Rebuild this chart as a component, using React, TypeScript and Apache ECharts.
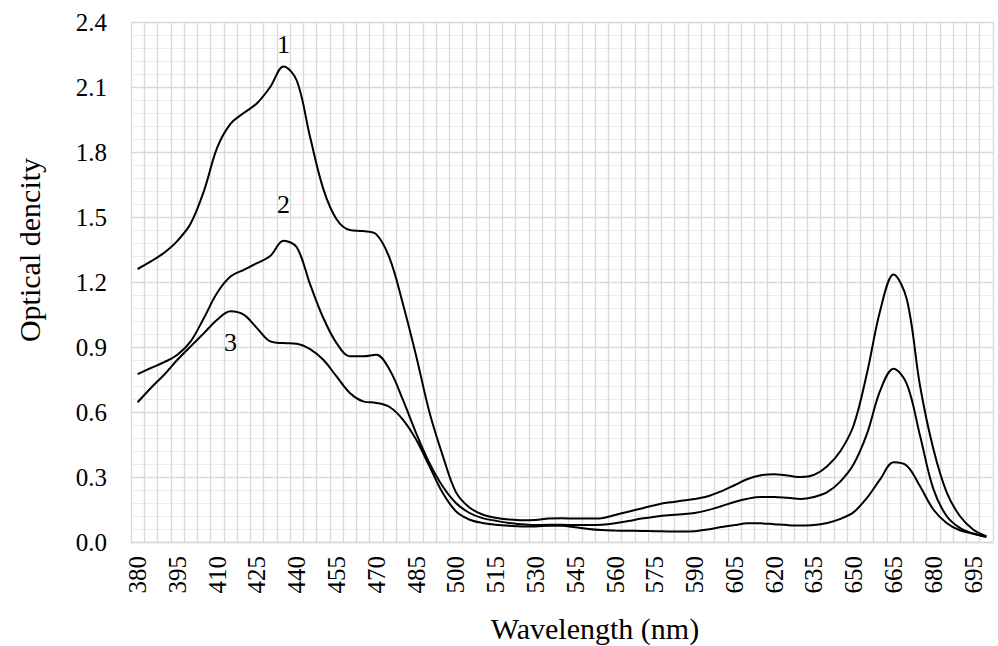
import React, { useEffect, useRef } from "react";
import * as echarts from "echarts";

const wavelengths = [
  "380", "385", "390", "395", "400", "405", "410", "415", "420", "425",
  "430", "435", "440", "445", "450", "455", "460", "465", "470", "475",
  "480", "485", "490", "495", "500", "505", "510", "515", "520", "525",
  "530", "535", "540", "545", "550", "555", "560", "565", "570", "575",
  "580", "585", "590", "595", "600", "605", "610", "615", "620", "625",
  "630", "635", "640", "645", "650", "655", "660", "665", "670", "675",
  "680", "685", "690", "695", "700",
];

const curve1 = [
  1.26, 1.295, 1.335, 1.39, 1.47, 1.62, 1.82, 1.93, 1.98, 2.025,
  2.1, 2.195, 2.13, 1.87, 1.63, 1.49, 1.44, 1.435, 1.42, 1.31,
  1.1, 0.86, 0.6, 0.4, 0.23, 0.16, 0.127, 0.112, 0.104, 0.1,
  0.102, 0.108, 0.11, 0.108, 0.108, 0.11, 0.125, 0.14, 0.155, 0.17,
  0.182, 0.19, 0.198, 0.211, 0.234, 0.262, 0.291, 0.308, 0.313, 0.307,
  0.3, 0.31, 0.35, 0.42, 0.54, 0.78, 1.07, 1.235, 1.12, 0.72,
  0.43, 0.23, 0.12, 0.058, 0.027,
];

const curve2 = [
  0.775, 0.803, 0.83, 0.864, 0.926, 1.034, 1.15, 1.225, 1.256, 1.287,
  1.32, 1.39, 1.36, 1.19, 1.034, 0.918, 0.857, 0.857, 0.864, 0.795,
  0.657, 0.503, 0.365, 0.257, 0.18, 0.135, 0.11, 0.098, 0.088, 0.082,
  0.078, 0.08, 0.08, 0.078, 0.078, 0.08, 0.087, 0.097, 0.108, 0.117,
  0.124, 0.128, 0.134, 0.147, 0.165, 0.185, 0.2, 0.208, 0.208, 0.204,
  0.199, 0.208, 0.23, 0.28, 0.36, 0.5, 0.7, 0.8, 0.73, 0.49,
  0.245, 0.12, 0.065, 0.039, 0.024,
];

const curve3 = [
  0.645, 0.711, 0.772, 0.841, 0.903, 0.964, 1.026, 1.065, 1.049, 0.987,
  0.926, 0.918, 0.915, 0.89, 0.841, 0.764, 0.688, 0.649, 0.642, 0.623,
  0.565, 0.473, 0.35, 0.227, 0.142, 0.104, 0.088, 0.08, 0.075, 0.072,
  0.072, 0.075, 0.075, 0.068, 0.06, 0.055, 0.053, 0.052, 0.051, 0.05,
  0.049, 0.048, 0.05, 0.058, 0.069, 0.078, 0.086, 0.086, 0.082, 0.078,
  0.076, 0.078, 0.088, 0.107, 0.138, 0.204, 0.29, 0.368, 0.352, 0.257,
  0.15, 0.088, 0.054, 0.038, 0.024,
];

// curve number annotations: [label, category, value]
const curveLabels: [string, string, number][] = [
  ["1", "435", 2.294],
  ["2", "435", 1.556],
  ["3", "415", 0.92],
];

const yTitle = "Optical dencity";
const xTitle = "Wavelength (nm)";

const FONT = "'Liberation Serif', 'Times New Roman', serif";

export default function App() {
  const ref = useRef<HTMLDivElement>(null);

  useEffect(() => {
    if (!ref.current) return;
    const chart = echarts.init(ref.current, undefined, { renderer: "svg" });

    const mkSeries = (data: number[], idx: number) => {
      const lbl = curveLabels[idx];
      return {
        type: "line",
        data,
        smooth: 0.35,
        showSymbol: false,
        symbol: "none",
        lineStyle: { color: "#000", width: 2 },
        z: 5,
        markPoint: {
          symbol: "circle",
          symbolSize: 1,
          itemStyle: { color: "rgba(0,0,0,0)" },
          label: {
            show: true,
            position: "inside",
            formatter: lbl[0],
            color: "#000",
            fontFamily: FONT,
            fontSize: 26,
          },
          data: [{ coord: [lbl[1], lbl[2]] }],
        },
      };
    };

    chart.setOption({
      animation: false,
      backgroundColor: "#fff",
      grid: { left: 131, right: 5, top: 22, bottom: 104, containLabel: false },
      xAxis: {
        type: "category",
        data: wavelengths,
        boundaryGap: true,
        axisLine: { show: true, lineStyle: { color: "#d9d9d9", width: 1.3 } },
        axisTick: { show: false },
        axisLabel: {
          interval: 2,
          rotate: 90,
          margin: 14,
          color: "#000",
          fontFamily: FONT,
          fontSize: 25,
        },
        splitLine: {
          show: true,
          interval: 0,
          lineStyle: { color: "#d9d9d9", width: 1.3 },
        },
      },
      yAxis: {
        type: "value",
        min: 0,
        max: 2.4,
        interval: 0.3,
        axisLine: { show: false },
        axisTick: { show: false },
        axisLabel: {
          margin: 24,
          color: "#000",
          fontFamily: FONT,
          fontSize: 25,
          formatter: (v: number) => v.toFixed(1),
        },
        splitLine: { show: true, lineStyle: { color: "#d9d9d9", width: 1.3 } },
        minorTick: { show: false, splitNumber: 5 },
        minorSplitLine: { show: true, lineStyle: { color: "#ececec", width: 1 } },
      },
      graphic: [
        {
          type: "text",
          x: 29,
          y: 250,
          rotation: Math.PI / 2,
          style: {
            text: yTitle,
            fill: "#000",
            font: `30px ${FONT}`,
            textAlign: "center",
            textVerticalAlign: "middle",
          },
        },
        {
          type: "text",
          x: 595,
          y: 628,
          style: {
            text: xTitle,
            fill: "#000",
            font: `30px ${FONT}`,
            textAlign: "center",
            textVerticalAlign: "middle",
          },
        },
      ],
      series: [mkSeries(curve1, 0), mkSeries(curve2, 1), mkSeries(curve3, 2)],
    });

    return () => chart.dispose();
  }, []);

  return (
    <div
      ref={ref}
      style={{ position: "absolute", left: 0, top: 0, width: 998, height: 646 }}
    />
  );
}
